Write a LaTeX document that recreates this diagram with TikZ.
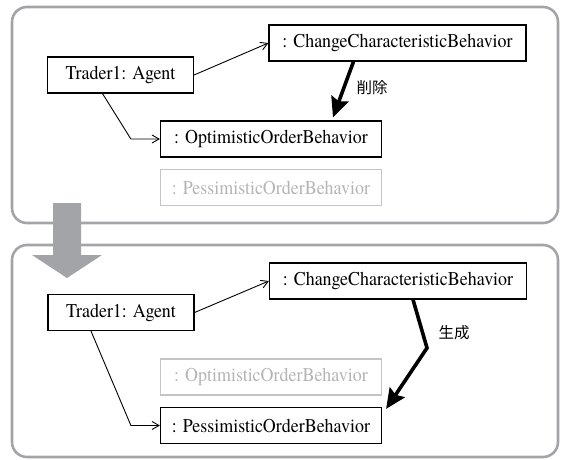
\documentclass[tikz,border=0pt]{standalone}
\usepackage{fontspec}
\setmainfont{TeX Gyre Termes}[FakeStretch=0.92]
\newfontfamily\jpfont{Noto Sans CJK JP}
\usetikzlibrary{arrows.meta}
\definecolor{panelgray}{RGB}{163,164,168}
\definecolor{fadegray}{RGB}{196,196,196}
\definecolor{fadetext}{RGB}{180,180,180}

\begin{document}
\begin{tikzpicture}[x=1pt, y=-1pt,
    obj/.style={draw, line width=1.2pt, inner sep=0pt, minimum height=36pt, font=\fontsize{19.5}{21}\selectfont},
    faded/.style={obj, draw=fadegray, text=fadetext},
    link/.style={line width=0.9pt, -{Straight Barb[length=7pt, width=8pt]}},
    action/.style={line width=3.6pt, -{Stealth[length=20pt, width=18pt, inset=3pt]}},
    panel/.style={draw=panelgray, line width=2.6pt, rounded corners=15pt}]
        \useasboundingbox (0,0) rectangle (565,460);

        \draw [panel] (12,7) rectangle (558,223);
        \draw [panel] (12,245) rectangle (558,457);

        \node [obj, minimum width=146pt] (agent1) at (120.5,75) {Trader1: Agent};
        \node [obj, minimum width=257pt] (change1) at (397.5,43) {: ChangeCharacteristicBehavior};
        \node [obj, minimum width=221pt] (opt1) at (271,139) {: OptimisticOrderBehavior};
        \node [faded, minimum width=221pt] (pess1) at (271,187.5) {: PessimisticOrderBehavior};

        \draw [link] (agent1.east) -- (change1.west);
        \draw [link] ([xshift=-18pt]agent1.south) -- ([xshift=-29pt]opt1.west) -- (opt1.west);
        \draw [action] ([xshift=-44pt]change1.south) -- ([xshift=62pt, yshift=3pt]opt1.north);
        \node [font=\jpfont\fontsize{15.5}{17}\selectfont] (del) at (372,88) {削除};

        \fill [panelgray] (53,203) -- (81,203) -- (81,255) -- (102,255) -- (67,278) -- (32,255) -- (53,255) -- cycle;

        \node [obj, minimum width=146pt] (agent2) at (121,312.5) {Trader1: Agent};
        \node [obj, minimum width=257pt] (change2) at (398,281) {: ChangeCharacteristicBehavior};
        \node [faded, minimum width=221pt] (opt2) at (271,377) {: OptimisticOrderBehavior};
        \node [obj, minimum width=221pt] (pess2) at (271,425.5) {: PessimisticOrderBehavior};
        \coordinate (bend) at (427,348);

        \draw [link] (agent2.east) -- (change2.west);
        \draw [link] ([xshift=-30pt]agent2.south) -- ([xshift=-29pt]pess2.west) -- (pess2.west);
        \draw [action] ([xshift=15pt]change2.south) -- (bend) -- ([xshift=4pt, yshift=-2pt]pess2.north east);
        \node [font=\jpfont\fontsize{15.5}{17}\selectfont] (gen) at (454,333) {生成};
\end{tikzpicture}
\end{document}
